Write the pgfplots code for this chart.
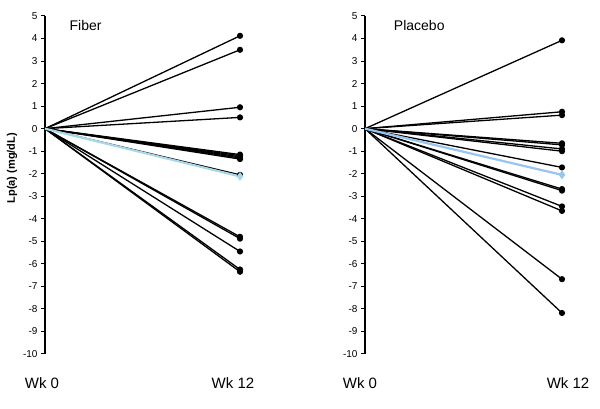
\documentclass[border=0pt]{standalone}
\usepackage{fontspec}
\setmainfont{Liberation Sans}
\usepackage{pgfplots}
\pgfplotsset{compat=1.18}
\definecolor{fibblue}{RGB}{170,215,232}
\definecolor{plablue}{RGB}{150,198,240}
\tikzset{wk/.style={anchor=north, inner sep=0pt, font=\fontsize{15}{17}\selectfont, yshift=-23pt}}
\pgfplotsset{
  ln/.style={black, line width=1.3pt, mark=*, mark size=2.4pt, mark indices={2}, mark options={solid}},
  panel/.style={
    scale only axis, width=195pt, height=338pt,
    xmin=0, xmax=12, ymin=-10, ymax=5,
    clip=false,
    axis y line*=left, axis x line=none,
    ytick={-10,-9,-8,-7,-6,-5,-4,-3,-2,-1,0,1,2,3,4,5},
    yticklabels={-10,-9,-8,-7,-6,-5,-4,-3,-2,-1,0,1,2,3,4,5},
    yticklabel style={font=\fontsize{10}{12}\selectfont},
    tick align=outside, major tick length=4pt,
    y axis line style={line width=1.1pt},
    ytick style={line width=1pt, black},
    /pgf/number format/assume math mode=true,
  }
}
\begin{document}
\begin{tikzpicture}[x=1pt,y=1pt]
\useasboundingbox (0,0) rectangle (600,409);
% Fiber
\begin{axis}[panel, at={(45pt,55pt)}, anchor=south west,
  ylabel={\bfseries Lp(a) (mg/dL)},
  every axis y label/.style={at={(axis description cs:-0.169,0.55)}, rotate=90, anchor=center, font=\fontsize{11}{13}\selectfont}]
\addplot[ln] coordinates {(0,0) (12,4.12)};
\addplot[ln] coordinates {(0,0) (12,3.5)};
\addplot[ln] coordinates {(0,0) (12,0.95)};
\addplot[ln] coordinates {(0,0) (12,0.5)};
\addplot[ln] coordinates {(0,0) (12,-1.15)};
\addplot[ln] coordinates {(0,0) (12,-1.2)};
\addplot[ln] coordinates {(0,0) (12,-1.25)};
\addplot[ln] coordinates {(0,0) (12,-1.3)};
\addplot[ln] coordinates {(0,0) (12,-1.35)};
\addplot[ln] coordinates {(0,0) (12,-2.05)};
\addplot[ln] coordinates {(0,0) (12,-4.8)};
\addplot[ln] coordinates {(0,0) (12,-4.88)};
\addplot[ln] coordinates {(0,0) (12,-5.45)};
\addplot[ln] coordinates {(0,0) (12,-6.25)};
\addplot[ln] coordinates {(0,0) (12,-6.35)};
\addplot[fibblue, line width=2.2pt, mark=diamond*, mark size=2.6pt, mark indices={2}] coordinates {(0,0) (12,-2.12)};
\node[anchor=west, font=\fontsize{14}{16}\selectfont] at (axis cs:1.3,4.6) {Fiber};
\node[wk, xshift=-3pt] at (axis cs:0,-10) {Wk 0};
\node[wk, xshift=-7pt] at (axis cs:12,-10) {Wk 12};
\end{axis}
% Placebo
\begin{axis}[panel, at={(365pt,55pt)}, anchor=south west, width=197pt]
\addplot[ln] coordinates {(0,0) (12,3.92)};
\addplot[ln] coordinates {(0,0) (12,0.75)};
\addplot[ln] coordinates {(0,0) (12,0.6)};
\addplot[ln] coordinates {(0,0) (12,-0.65)};
\addplot[ln] coordinates {(0,0) (12,-0.72)};
\addplot[ln] coordinates {(0,0) (12,-0.9)};
\addplot[ln] coordinates {(0,0) (12,-1.0)};
\addplot[ln] coordinates {(0,0) (12,-1.72)};
\addplot[ln] coordinates {(0,0) (12,-2.68)};
\addplot[ln] coordinates {(0,0) (12,-2.75)};
\addplot[ln] coordinates {(0,0) (12,-3.45)};
\addplot[ln] coordinates {(0,0) (12,-3.65)};
\addplot[ln] coordinates {(0,0) (12,-6.68)};
\addplot[ln] coordinates {(0,0) (12,-8.18)};
\addplot[plablue, line width=2.2pt, mark=diamond*, mark size=2.6pt, mark indices={2}] coordinates {(0,0) (12,-2.05)};
\node[anchor=west, font=\fontsize{14}{16}\selectfont] at (axis cs:1.55,4.6) {Placebo};
\node[wk, xshift=-5pt] at (axis cs:0,-10) {Wk 0};
\node[wk, xshift=6pt] at (axis cs:12,-10) {Wk 12};
\end{axis}
\end{tikzpicture}
\end{document}
